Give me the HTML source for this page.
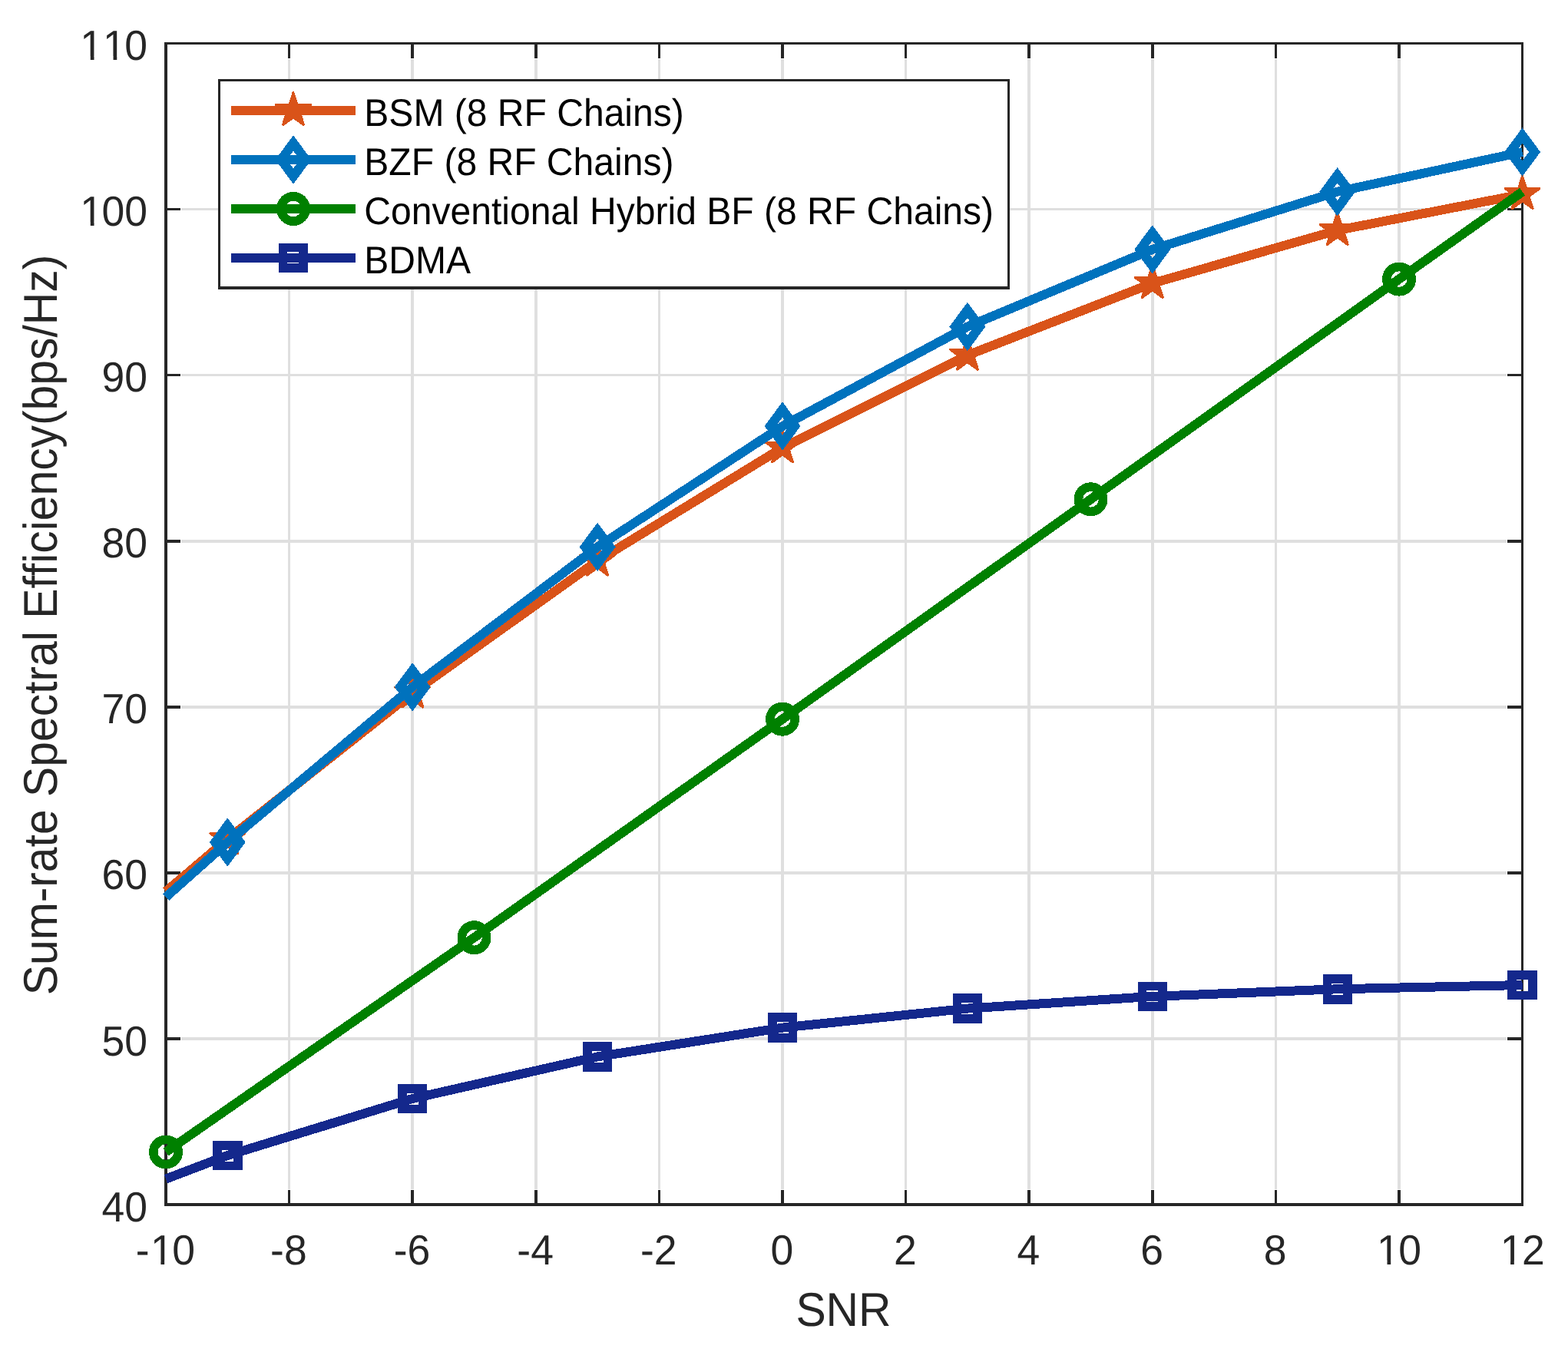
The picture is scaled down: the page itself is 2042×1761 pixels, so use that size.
<!DOCTYPE html>
<html lang="en"><head><meta charset="utf-8"><title>Sum-rate Spectral Efficiency vs SNR</title>
<style>html,body{margin:0;padding:0;background:#fff}body{width:2042px;height:1761px;overflow:hidden}svg{display:block}text{font-family:'Liberation Sans', Arial, Helvetica, sans-serif;font-kerning:none;font-variant-ligatures:none;text-rendering:geometricPrecision}</style>
</head><body>
<svg width="2042" height="1761" viewBox="0 0 2042 1761">
<rect x="0" y="0" width="2042" height="1761" fill="#ffffff"/>
<g fill="#dfdfdf" shape-rendering="crispEdges">
<rect x="375" y="77" width="3" height="1472"/>
<rect x="535" y="77" width="4" height="1472"/>
<rect x="696" y="77" width="4" height="1472"/>
<rect x="857" y="77" width="3" height="1472"/>
<rect x="1017" y="77" width="4" height="1472"/>
<rect x="1178" y="77" width="3" height="1472"/>
<rect x="1338" y="77" width="4" height="1472"/>
<rect x="1499" y="77" width="4" height="1472"/>
<rect x="1660" y="77" width="3" height="1472"/>
<rect x="1820" y="77" width="4" height="1472"/>
<rect x="236" y="1351" width="1726" height="4"/>
<rect x="236" y="1135" width="1726" height="4"/>
<rect x="236" y="919" width="1726" height="4"/>
<rect x="236" y="703" width="1726" height="4"/>
<rect x="236" y="487" width="1726" height="3"/>
<rect x="236" y="271" width="1726" height="3"/>
</g>
<g fill="#262626" shape-rendering="crispEdges">
<rect x="214" y="55" width="4" height="1516"/>
<rect x="1981" y="55" width="3" height="1516"/>
<rect x="214" y="55" width="1770" height="3"/>
<rect x="214" y="1567" width="1770" height="4"/>
<rect x="375" y="58" width="3" height="18"/>
<rect x="375" y="1550" width="3" height="17"/>
<rect x="535" y="58" width="4" height="18"/>
<rect x="535" y="1550" width="4" height="17"/>
<rect x="696" y="58" width="4" height="18"/>
<rect x="696" y="1550" width="4" height="17"/>
<rect x="857" y="58" width="3" height="18"/>
<rect x="857" y="1550" width="3" height="17"/>
<rect x="1017" y="58" width="4" height="18"/>
<rect x="1017" y="1550" width="4" height="17"/>
<rect x="1178" y="58" width="3" height="18"/>
<rect x="1178" y="1550" width="3" height="17"/>
<rect x="1338" y="58" width="4" height="18"/>
<rect x="1338" y="1550" width="4" height="17"/>
<rect x="1499" y="58" width="4" height="18"/>
<rect x="1499" y="1550" width="4" height="17"/>
<rect x="1660" y="58" width="3" height="18"/>
<rect x="1660" y="1550" width="3" height="17"/>
<rect x="1820" y="58" width="4" height="18"/>
<rect x="1820" y="1550" width="4" height="17"/>
<rect x="218" y="1351" width="17" height="4"/>
<rect x="1963" y="1351" width="18" height="4"/>
<rect x="218" y="1135" width="17" height="4"/>
<rect x="1963" y="1135" width="18" height="4"/>
<rect x="218" y="919" width="17" height="4"/>
<rect x="1963" y="919" width="18" height="4"/>
<rect x="218" y="703" width="17" height="4"/>
<rect x="1963" y="703" width="18" height="4"/>
<rect x="218" y="487" width="17" height="3"/>
<rect x="1963" y="487" width="18" height="3"/>
<rect x="218" y="271" width="17" height="3"/>
<rect x="1963" y="271" width="18" height="3"/>
</g>
<g shape-rendering="crispEdges">
<polyline points="216.00,1161.20 296.30,1093.00 537.20,902.40 778.10,730.50 1019.00,583.20 1259.90,462.70 1500.80,369.00 1741.70,300.00 1982.60,253.00" fill="none" stroke="#d95319" stroke-width="12" stroke-linejoin="round" stroke-linecap="butt"/>
<polygon points="295.29,1068.00 297.31,1068.00 302.61,1084.32 319.77,1084.32 320.39,1086.23 306.50,1096.32 311.55,1111.83 309.50,1113.32 296.30,1103.73 283.10,1113.32 281.05,1111.83 286.10,1096.32 272.21,1086.23 272.83,1084.32 289.99,1084.32" fill="#d95319"/>
<polygon points="536.19,877.40 538.21,877.40 543.51,893.72 560.67,893.72 561.29,895.63 547.40,905.72 552.45,921.23 550.40,922.72 537.20,913.13 524.00,922.72 521.95,921.23 527.00,905.72 513.11,895.63 513.73,893.72 530.89,893.72" fill="#d95319"/>
<polygon points="777.09,705.50 779.11,705.50 784.41,721.82 801.57,721.82 802.19,723.73 788.30,733.82 793.35,749.33 791.30,750.82 778.10,741.23 764.90,750.82 762.85,749.33 767.90,733.82 754.01,723.73 754.63,721.82 771.79,721.82" fill="#d95319"/>
<polygon points="1017.99,558.20 1020.01,558.20 1025.31,574.52 1042.47,574.52 1043.09,576.43 1029.20,586.52 1034.25,602.03 1032.20,603.52 1019.00,593.93 1005.80,603.52 1003.75,602.03 1008.80,586.52 994.91,576.43 995.53,574.52 1012.69,574.52" fill="#d95319"/>
<polygon points="1258.89,437.70 1260.91,437.70 1266.21,454.02 1283.37,454.02 1283.99,455.93 1270.10,466.02 1275.15,481.53 1273.10,483.02 1259.90,473.43 1246.70,483.02 1244.65,481.53 1249.70,466.02 1235.81,455.93 1236.43,454.02 1253.59,454.02" fill="#d95319"/>
<polygon points="1499.79,344.00 1501.81,344.00 1507.11,360.32 1524.27,360.32 1524.89,362.23 1511.00,372.32 1516.05,387.83 1514.00,389.32 1500.80,379.73 1487.60,389.32 1485.55,387.83 1490.60,372.32 1476.71,362.23 1477.33,360.32 1494.49,360.32" fill="#d95319"/>
<polygon points="1740.69,275.00 1742.71,275.00 1748.01,291.32 1765.17,291.32 1765.79,293.23 1751.90,303.32 1756.95,318.83 1754.90,320.32 1741.70,310.73 1728.50,320.32 1726.45,318.83 1731.50,303.32 1717.61,293.23 1718.23,291.32 1735.39,291.32" fill="#d95319"/>
<polygon points="1981.59,228.00 1983.61,228.00 1988.91,244.32 2006.07,244.32 2006.69,246.23 1992.80,256.32 1997.85,271.83 1995.80,273.32 1982.60,263.73 1969.40,273.32 1967.35,271.83 1972.40,256.32 1958.51,246.23 1959.13,244.32 1976.29,244.32" fill="#d95319"/>
<polyline points="216.00,1168.50 296.30,1097.00 537.20,894.90 778.10,712.50 1019.00,555.10 1259.90,425.50 1500.80,324.90 1741.70,249.75 1982.60,198.00" fill="none" stroke="#0072bd" stroke-width="12" stroke-linejoin="round" stroke-linecap="butt"/>
<path d="M296.30 1065.30L319.80 1097.00L296.30 1128.70L272.80 1097.00ZM296.30 1085.70L304.80 1097.00L296.30 1108.30L287.80 1097.00Z" fill="#0072bd" fill-rule="evenodd"/>
<path d="M537.20 863.20L560.70 894.90L537.20 926.60L513.70 894.90ZM537.20 883.60L545.70 894.90L537.20 906.20L528.70 894.90Z" fill="#0072bd" fill-rule="evenodd"/>
<path d="M778.10 680.80L801.60 712.50L778.10 744.20L754.60 712.50ZM778.10 701.20L786.60 712.50L778.10 723.80L769.60 712.50Z" fill="#0072bd" fill-rule="evenodd"/>
<path d="M1019.00 523.40L1042.50 555.10L1019.00 586.80L995.50 555.10ZM1019.00 543.80L1027.50 555.10L1019.00 566.40L1010.50 555.10Z" fill="#0072bd" fill-rule="evenodd"/>
<path d="M1259.90 393.80L1283.40 425.50L1259.90 457.20L1236.40 425.50ZM1259.90 414.20L1268.40 425.50L1259.90 436.80L1251.40 425.50Z" fill="#0072bd" fill-rule="evenodd"/>
<path d="M1500.80 293.20L1524.30 324.90L1500.80 356.60L1477.30 324.90ZM1500.80 313.60L1509.30 324.90L1500.80 336.20L1492.30 324.90Z" fill="#0072bd" fill-rule="evenodd"/>
<path d="M1741.70 218.05L1765.20 249.75L1741.70 281.45L1718.20 249.75ZM1741.70 238.45L1750.20 249.75L1741.70 261.05L1733.20 249.75Z" fill="#0072bd" fill-rule="evenodd"/>
<path d="M1982.60 166.30L2006.10 198.00L1982.60 229.70L1959.10 198.00ZM1982.60 186.70L1991.10 198.00L1982.60 209.30L1974.10 198.00Z" fill="#0072bd" fill-rule="evenodd"/>
<polyline points="216.00,1500.50 617.50,1221.20 1019.00,936.65 1420.50,650.30 1822.00,363.60 1982.60,249.70" fill="none" stroke="#008000" stroke-width="12" stroke-linejoin="round" stroke-linecap="butt"/>
<circle cx="216.00" cy="1500.50" r="16.15" fill="none" stroke="#008000" stroke-width="11.70"/>
<circle cx="617.50" cy="1221.20" r="16.15" fill="none" stroke="#008000" stroke-width="11.70"/>
<circle cx="1019.00" cy="936.65" r="16.15" fill="none" stroke="#008000" stroke-width="11.70"/>
<circle cx="1420.50" cy="650.30" r="16.15" fill="none" stroke="#008000" stroke-width="11.70"/>
<circle cx="1822.00" cy="363.60" r="16.15" fill="none" stroke="#008000" stroke-width="11.70"/>
<polyline points="216.00,1535.60 296.30,1505.00 537.20,1431.00 778.10,1376.40 1019.00,1338.60 1259.90,1313.60 1500.80,1297.90 1741.70,1288.30 1982.60,1283.00" fill="none" stroke="#14288c" stroke-width="12" stroke-linejoin="round" stroke-linecap="butt"/>
<path d="M277.10 1485.80H315.50V1524.20H277.10ZM288.80 1497.50H303.80V1512.50H288.80Z" fill="#14288c" fill-rule="evenodd"/>
<path d="M518.00 1411.80H556.40V1450.20H518.00ZM529.70 1423.50H544.70V1438.50H529.70Z" fill="#14288c" fill-rule="evenodd"/>
<path d="M758.90 1357.20H797.30V1395.60H758.90ZM770.60 1368.90H785.60V1383.90H770.60Z" fill="#14288c" fill-rule="evenodd"/>
<path d="M999.80 1319.40H1038.20V1357.80H999.80ZM1011.50 1331.10H1026.50V1346.10H1011.50Z" fill="#14288c" fill-rule="evenodd"/>
<path d="M1240.70 1294.40H1279.10V1332.80H1240.70ZM1252.40 1306.10H1267.40V1321.10H1252.40Z" fill="#14288c" fill-rule="evenodd"/>
<path d="M1481.60 1278.70H1520.00V1317.10H1481.60ZM1493.30 1290.40H1508.30V1305.40H1493.30Z" fill="#14288c" fill-rule="evenodd"/>
<path d="M1722.50 1269.10H1760.90V1307.50H1722.50ZM1734.20 1280.80H1749.20V1295.80H1734.20Z" fill="#14288c" fill-rule="evenodd"/>
<path d="M1963.40 1263.80H2001.80V1302.20H1963.40ZM1975.10 1275.50H1990.10V1290.50H1975.10Z" fill="#14288c" fill-rule="evenodd"/>
</g>
<g shape-rendering="crispEdges">
<rect x="284" y="103" width="1031" height="274" fill="#262626"/>
<rect x="287" y="106" width="1025" height="267" fill="#ffffff"/>
<rect x="301" y="138" width="162" height="12" fill="#d95319"/>
<polygon points="380.99,119.00 383.01,119.00 388.31,135.32 405.47,135.32 406.09,137.23 392.20,147.32 397.25,162.83 395.20,164.32 382.00,154.73 368.80,164.32 366.75,162.83 371.80,147.32 357.91,137.23 358.53,135.32 375.69,135.32" fill="#d95319"/>
<rect x="301" y="202" width="162" height="12" fill="#0072bd"/>
<path d="M382.00 176.30L405.50 208.00L382.00 239.70L358.50 208.00ZM382.00 196.70L390.50 208.00L382.00 219.30L373.50 208.00Z" fill="#0072bd" fill-rule="evenodd"/>
<rect x="301" y="266" width="162" height="12" fill="#008000"/>
<circle cx="382.00" cy="272.00" r="16.15" fill="none" stroke="#008000" stroke-width="11.70"/>
<rect x="301" y="330" width="162" height="12" fill="#14288c"/>
<path d="M362.80 316.80H401.20V355.20H362.80ZM374.00 328.00H389.00V343.00H374.00Z" fill="#14288c" fill-rule="evenodd"/>
</g>
<g font-size="48.05" fill="#000000">
<text transform="translate(474.30 164.10) scale(1 1.045)">BSM (8 RF Chains)</text>
<text transform="translate(474.30 228.10) scale(1 1.045)">BZF (8 RF Chains)</text>
<text transform="translate(474.30 292.10) scale(1 1.045)">Conventional Hybrid BF (8 RF Chains)</text>
<text transform="translate(474.30 356.10) scale(1 1.045)">BDMA</text>
</g>
<g font-size="53.5" fill="#262626">
<clipPath id="k1"><path clip-rule="evenodd" d="M0 0H2042V1761H0ZM198.53 1642.20H209.41V1648.40H198.53ZM214.14 1642.20H224.60V1648.40H214.14Z"/></clipPath>
<g clip-path="url(#k1)"><text transform="translate(176.64 1646.90) scale(1 1.027)" x="0.00 19.32 47.57">-10</text></g>
<text transform="translate(352.11 1646.90) scale(1 1.027)">-8</text>
<text transform="translate(512.71 1646.90) scale(1 1.027)">-6</text>
<text transform="translate(673.31 1646.90) scale(1 1.027)">-4</text>
<text transform="translate(833.91 1646.90) scale(1 1.027)">-2</text>
<text transform="translate(1003.42 1646.90) scale(1 1.027)">0</text>
<text transform="translate(1164.02 1646.90) scale(1 1.027)">2</text>
<text transform="translate(1324.62 1646.90) scale(1 1.027)">4</text>
<text transform="translate(1485.22 1646.90) scale(1 1.027)">6</text>
<text transform="translate(1645.82 1646.90) scale(1 1.027)">8</text>
<clipPath id="k2"><path clip-rule="evenodd" d="M0 0H2042V1761H0ZM1795.62 1642.20H1806.50V1648.40H1795.62ZM1811.23 1642.20H1821.69V1648.40H1811.23Z"/></clipPath>
<g clip-path="url(#k2)"><text transform="translate(1791.55 1646.90) scale(1 1.027)" x="1.50 29.75">10</text></g>
<clipPath id="k3"><path clip-rule="evenodd" d="M0 0H2042V1761H0ZM1956.22 1642.20H1967.10V1648.40H1956.22ZM1971.83 1642.20H1982.29V1648.40H1971.83Z"/></clipPath>
<g clip-path="url(#k3)"><text transform="translate(1952.15 1646.90) scale(1 1.027)" x="1.50 29.75">12</text></g>
<text transform="translate(132.59 1590.60) scale(1 1.027)">40</text>
<text transform="translate(132.59 1374.54) scale(1 1.027)">50</text>
<text transform="translate(132.59 1158.49) scale(1 1.027)">60</text>
<text transform="translate(132.59 942.43) scale(1 1.027)">70</text>
<text transform="translate(132.59 726.37) scale(1 1.027)">80</text>
<text transform="translate(132.59 510.31) scale(1 1.027)">90</text>
<clipPath id="k4"><path clip-rule="evenodd" d="M0 0H2042V1761H0ZM106.91 289.55H117.79V295.76H106.91ZM122.52 289.55H132.98V295.76H122.52Z"/></clipPath>
<g clip-path="url(#k4)"><text transform="translate(102.84 294.26) scale(1 1.027)" x="1.50 29.75 59.51">100</text></g>
<clipPath id="k5"><path clip-rule="evenodd" d="M0 0H2042V1761H0ZM106.91 73.50H117.79V79.70H106.91ZM122.52 73.50H132.98V79.70H122.52ZM136.67 73.50H147.55V79.70H136.67ZM152.27 73.50H162.73V79.70H152.27Z"/></clipPath>
<g clip-path="url(#k5)"><text transform="translate(102.84 78.20) scale(1 1.027)" x="1.50 31.25 59.51">110</text></g>
</g>
<g font-size="58.85" fill="#262626">
<text transform="translate(1098.50 1726.60) scale(1 1.052)" text-anchor="middle">SNR</text>
<text transform="translate(74.00 814.00) rotate(-90) scale(1 1.052)" text-anchor="middle">Sum-rate Spectral Efficiency(bps/Hz)</text>
</g>
</svg>
</body></html>
